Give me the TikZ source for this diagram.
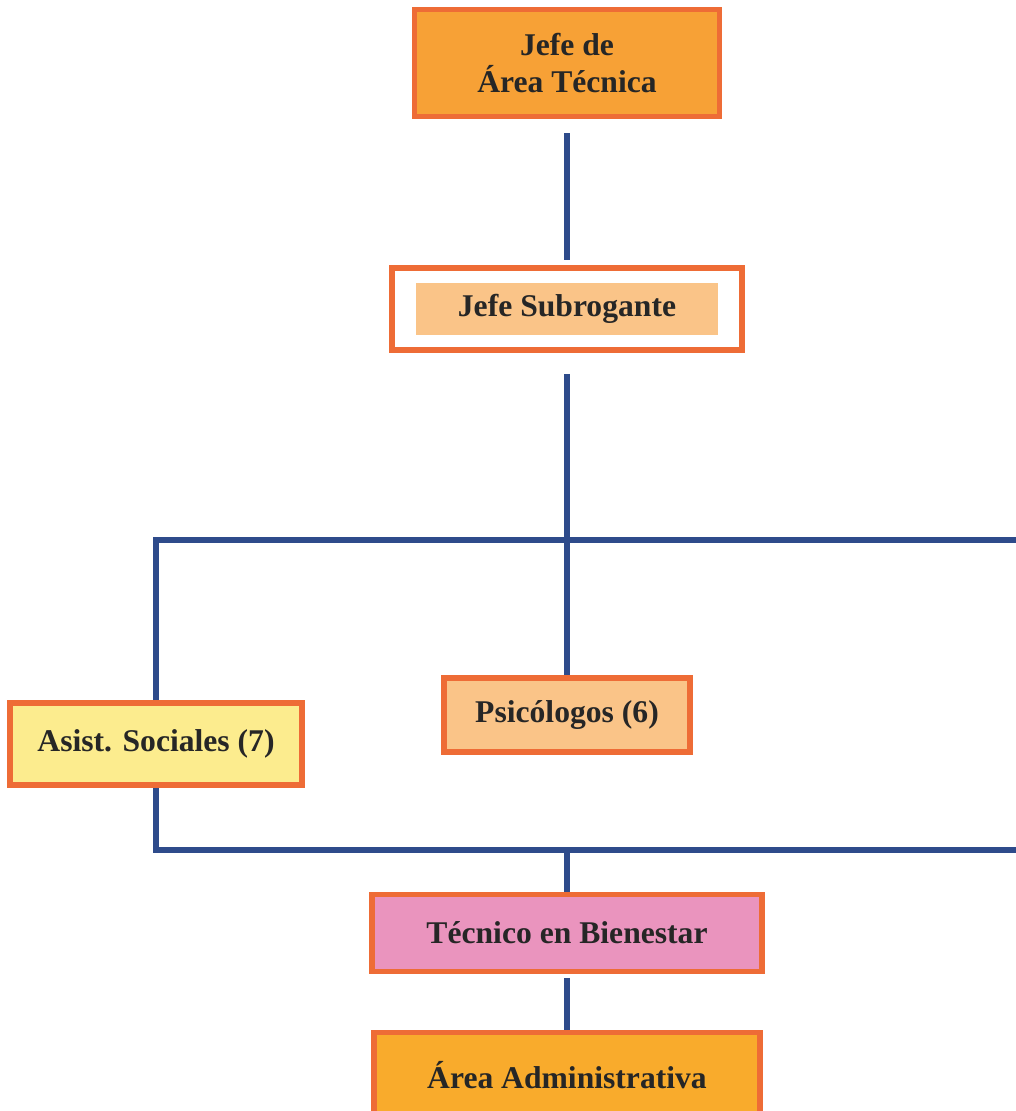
\documentclass[tikz,border=0pt]{standalone}
\usepackage{fontspec}
\setmainfont{Liberation Serif}

\definecolor{borde}{HTML}{EE6C36}
\definecolor{linea}{HTML}{2E4B8B}
\definecolor{naranja}{HTML}{F7A136}
\definecolor{durazno}{HTML}{FAC488}
\definecolor{amarillo}{HTML}{FCEC8E}
\definecolor{rosa}{HTML}{EA94BE}
\definecolor{ambar}{HTML}{F9AB2C}

\begin{document}
\begin{tikzpicture}[x=0.02cm, y=-0.02cm,
    caja/.style={draw=borde, line width=3.2pt, rectangle, align=center, text=black!85,
      font=\fontsize{18}{21}\selectfont\bfseries, inner sep=0pt},
    enlace/.style={draw=linea, line width=3pt}]
    \useasboundingbox (0,0) rectangle (1016,1111);
    % Nodes
    \node [caja, fill=naranja, minimum width=6.1cm, minimum height=2.14cm] (jefe) at (567,63) {Jefe de\\Área Técnica};
    \node [caja, fill=white, minimum width=7cm, minimum height=1.64cm] (subrog) at (567,309) {};
    \node [fill=durazno, minimum width=6.04cm, minimum height=1.06cm, text=black!85,
      font=\fontsize{18}{21}\selectfont\bfseries] (subroglbl) at (subrog) {Jefe Subrogante};
    \node [caja, fill=amarillo, minimum width=5.84cm, minimum height=1.64cm] (asist) at (156,744) {Asist. Sociales (7)};
    \node [caja, fill=durazno, minimum width=4.92cm, minimum height=1.48cm] (psico) at (567,715) {Psicólogos (6)};
    \node [caja, fill=rosa, minimum width=7.8cm, minimum height=1.54cm] (tecnico) at (567,933) {Técnico en Bienestar};
    \node [caja, fill=ambar, minimum width=7.72cm, minimum height=1.7cm] (admin) at (567,1075) {Área Administrativa};
    \coordinate (rtop) at (1016,540);
    \coordinate (rbot) at (1016,850);
    % Lines
    \draw [enlace, shorten <=8pt, shorten >=3pt] (jefe) -- (subrog);
    \draw [enlace, shorten <=12pt] (subrog) -- (psico);
    \draw [enlace] (asist.north) |- (rtop);
    \draw [enlace] (asist.south) |- (rbot);
    \draw [enlace] (tecnico.north |- rbot) -- (tecnico.north);
    \draw [enlace, shorten <=2pt] (tecnico) -- (admin);
\end{tikzpicture}
\end{document}
